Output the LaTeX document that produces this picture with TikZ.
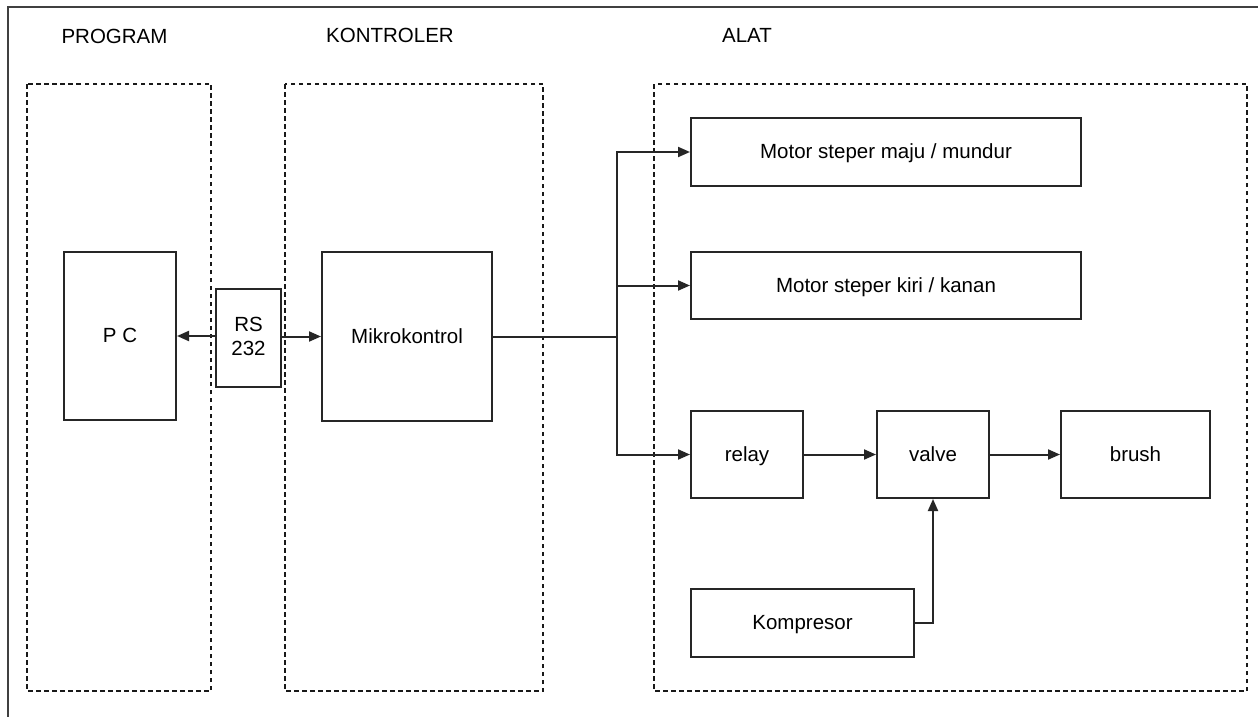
\documentclass[tikz,border=0pt]{standalone}
\usepackage{fontspec}
\setmainfont{Liberation Sans}
\usetikzlibrary{arrows.meta}
\begin{document}
\begin{tikzpicture}[x=1pt,y=-1pt,
  every node/.style={font=\fontsize{20.5}{24}\selectfont, text=black},
  box/.style={draw=black!85, line width=2pt, inner sep=0pt, align=center},
  one/.style={text height=13pt, text depth=0pt},
  grp/.style={draw=black!90, line width=2.2pt, dash pattern=on 4.5pt off 3.5pt},
  arr/.style={draw=black!85, line width=2pt, -{Triangle[length=12pt,width=10pt]}},
  wire/.style={draw=black!85, line width=2pt}]
\useasboundingbox (0,0) rectangle (1258,717);
\fill[white] (0,0) rectangle (1258,717);
% frame
\draw[line width=2.5pt, black!75] (8,717) -- (8,7) -- (1258,7);
% group titles
\node (tprog) at (114.5,36) {PROGRAM};
\node (tkont) at (390,35) {KONTROLER};
\node (talat) at (747,35) {ALAT};
% dashed groups
\draw[grp] (27,84) rectangle (211,691);
\draw[grp] (285,84) rectangle (543,691);
\draw[grp] (654,84) rectangle (1247,691);
% boxes
\node[box, one, minimum width=112pt, minimum height=168pt] (pc) at (120,336) {P C};
\node[box, minimum width=65pt, minimum height=98pt, text depth=4pt] (rs) at (248.5,338) {RS\\232};
\node[box, one, minimum width=170pt, minimum height=169pt] (mk) at (407,336.5) {Mikrokontrol};
\node[box, one, minimum width=390pt, minimum height=68pt] (m1) at (886,152) {Motor steper maju / mundur};
\node[box, one, minimum width=390pt, minimum height=67pt] (m2) at (886,285.5) {Motor steper kiri / kanan};
\node[box, one, minimum width=112pt, minimum height=87pt] (relay) at (747,454.5) {relay};
\node[box, one, minimum width=112pt, minimum height=87pt] (valve) at (933,454.5) {valve};
\node[box, one, minimum width=149pt, minimum height=87pt] (brush) at (1135.5,454.5) {brush};
\node[box, one, minimum width=223pt, minimum height=68pt] (komp) at (802.5,623) {Kompresor};
% connectors
\coordinate (br) at (617,336.5);
\draw[arr] (rs.west |- pc.east) -- (pc.east);
\draw[arr] (rs.east |- mk.west) -- (mk.west);
\draw[wire] (mk.east) -- (br);
\draw[arr] (br) |- (m1.west);
\draw[arr] (br) |- (m2.west);
\draw[arr] (br) |- (relay.west);
\draw[arr] (relay.east) -- (valve.west);
\draw[arr] (valve.east) -- (brush.west);
\draw[arr] (komp.east) -| (valve.south);
\end{tikzpicture}
\end{document}
